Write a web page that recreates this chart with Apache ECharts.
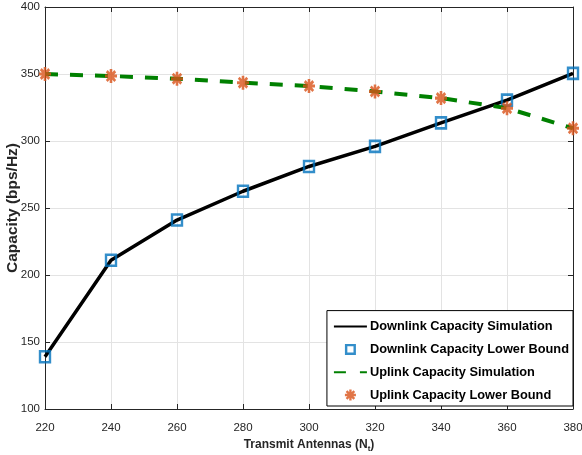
<!DOCTYPE html>
<html>
<head>
<meta charset="utf-8">
<script src="https://cdn.jsdelivr.net/npm/echarts@6/dist/echarts.min.js"></script>
<style>
  html, body { margin: 0; padding: 0; background: #fff; }
  #chart { width: 582px; height: 455px; }
</style>
</head>
<body>
<div id="chart"></div>
<script>
// transmit antennas N_t
const antennas = [220, 240, 260, 280, 300, 320, 340, 360, 380]
// capacities (bps/Hz)
const downlinkSim = [139, 211, 241, 262.5, 281, 296, 313.5, 330.5, 350.5]
const downlinkBound = [139, 211, 241, 262.5, 281, 296, 313.5, 330.5, 350.5]
const uplinkSim = [350, 348.5, 346.5, 343.5, 341, 337, 332, 324.5, 309.5]
const uplinkBound = [350, 348.5, 346.5, 343.5, 341, 337, 332, 324.5, 309.5]
const yTicks = [100, 150, 200, 250, 300, 350, 400]

const FONT = '"Liberation Sans", Arial, sans-serif'
const AXIS_COLOR = '#262626'
const BLUE = '#0072BD'
const ORANGE = '#D95319'
const GREEN = '#008000'

// 8-arm asterisk like matlab '*'
const asterisk =
  'path://M-1.3,-6L1.3,-6L1.3,6L-1.3,6Z M-6,-1.3L6,-1.3L6,1.3L-6,1.3Z ' +
  'M-3.32,-5.16L5.16,3.32L3.32,5.16L-5.16,-3.32Z ' +
  'M-5.16,3.32L3.32,-5.16L5.16,-3.32L-3.32,5.16Z'
// hollow square for the legend
const hollowSquare = 'path://M0,0H10V10H0Z M2.2,2.2V7.8H7.8V2.2Z'

function pairs(xs, ys) {
  return xs.map((x, i) => [x, ys[i]])
}

const chart = echarts.init(document.getElementById('chart'))

const option = {
  animation: false,
  textStyle: { fontFamily: FONT },
  grid: { left: 45, right: 9, top: 7, bottom: 46, outerBoundsMode: 'none', containLabel: false },
  legend: {
    orient: 'vertical',
    right: 9,
    bottom: 49,
    backgroundColor: '#fff',
    borderColor: '#000',
    borderWidth: 1,
    borderRadius: 0,
    padding: [8, 4, 3, 6],
    itemGap: 6.8,
    itemWidth: 33,
    itemHeight: 11,
    symbolKeepAspect: true,
    textStyle: {
      fontFamily: FONT,
      fontSize: 12.8,
      fontWeight: 'bold',
      color: '#000',
      lineHeight: 16,
      padding: [0, 0, 0, -2],
    },
    data: [
      { name: 'Downlink Capacity Simulation' },
      {
        name: 'Downlink Capacity Lower Bound',
        icon: hollowSquare,
        itemStyle: { color: BLUE, borderWidth: 0 },
      },
      { name: 'Uplink Capacity Simulation', lineStyle: { type: [12, 14] } },
      {
        name: 'Uplink Capacity Lower Bound',
        icon: asterisk,
        itemStyle: { color: ORANGE, borderWidth: 0 },
      },
    ],
  },
  xAxis: [
    {
      type: 'value',
      min: 220,
      max: 380,
      interval: 20,
      axisLine: { lineStyle: { color: AXIS_COLOR } },
      axisTick: { inside: true, length: 5, lineStyle: { color: AXIS_COLOR } },
      axisLabel: { color: AXIS_COLOR, fontSize: 11.5, margin: 13, fontFamily: FONT },
      splitLine: { show: true, lineStyle: { color: '#e3e3e3' } },
      name: '{a|Transmit Antennas (N}{s|t}{a|)}',
      nameLocation: 'middle',
      nameGap: 26,
      nameTextStyle: {
        rich: {
          a: { fontSize: 12, fontWeight: 'bold', color: AXIS_COLOR, fontFamily: FONT },
          s: { fontSize: 8, fontWeight: 'bold', color: AXIS_COLOR, fontFamily: FONT, padding: [7, 0, 0, 0] },
        },
      },
    },
    {
      type: 'value',
      position: 'top',
      min: 220,
      max: 380,
      interval: 20,
      axisLine: { show: true, lineStyle: { color: AXIS_COLOR } },
      axisTick: { show: true, inside: true, length: 5, lineStyle: { color: AXIS_COLOR } },
      axisLabel: { show: false },
      splitLine: { show: false },
    },
  ],
  yAxis: [
    {
      type: 'value',
      min: 100,
      max: 400,
      interval: 50,
      axisLine: { show: true, lineStyle: { color: AXIS_COLOR } },
      axisTick: { show: true, inside: true, length: 5, lineStyle: { color: AXIS_COLOR } },
      axisLabel: {
        color: AXIS_COLOR,
        fontSize: 11.5,
        margin: 5,
        fontFamily: FONT,
        formatter: (v) => (yTicks.includes(v) ? String(v) : ''),
      },
      splitLine: { show: true, lineStyle: { color: '#e3e3e3' } },
      name: 'Capacity (bps/Hz)',
      nameLocation: 'middle',
      nameGap: 24,
      nameMoveOverlap: false,
      nameTextStyle: { fontSize: 15.5, fontWeight: 'bold', color: AXIS_COLOR, fontFamily: FONT },
    },
    {
      type: 'value',
      position: 'right',
      min: 100,
      max: 400,
      interval: 50,
      axisLine: { show: true, lineStyle: { color: AXIS_COLOR } },
      axisTick: { show: true, inside: true, length: 5, lineStyle: { color: AXIS_COLOR } },
      axisLabel: { show: false },
      splitLine: { show: false },
    },
  ],
  series: [
    {
      name: 'Downlink Capacity Simulation',
      type: 'line',
      data: pairs(antennas, downlinkSim),
      showSymbol: false,
      symbol: 'rect',
      lineStyle: { color: '#000', width: 3.5 },
      itemStyle: { color: 'rgba(0,0,0,0)' },
      z: 2,
    },
    {
      name: 'Downlink Capacity Lower Bound',
      type: 'scatter',
      data: pairs(antennas, downlinkBound),
      symbol: 'rect',
      symbolSize: [10, 11],
      itemStyle: { color: 'rgba(0,0,0,0)', borderColor: BLUE, borderWidth: 2.5 },
      z: 3,
    },
    {
      name: 'Uplink Capacity Simulation',
      type: 'line',
      data: pairs(antennas, uplinkSim),
      showSymbol: false,
      symbol: 'rect',
      lineStyle: { color: GREEN, width: 4, type: [13, 12] },
      itemStyle: { color: 'rgba(0,0,0,0)' },
      z: 4,
    },
    {
      name: 'Uplink Capacity Lower Bound',
      type: 'scatter',
      data: pairs(antennas, uplinkBound),
      symbol: asterisk,
      symbolSize: [12, 14],
      itemStyle: { color: ORANGE },
      z: 5,
    },
  ],
}

chart.setOption(option)
</script>
</body>
</html>
